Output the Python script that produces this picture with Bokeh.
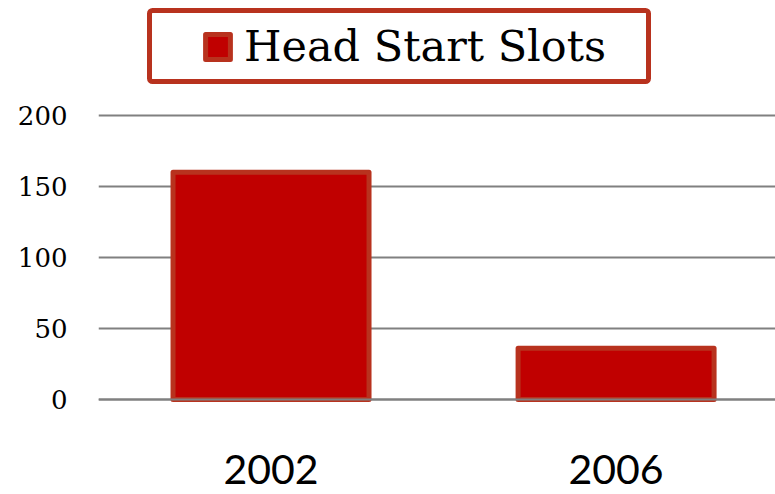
from bokeh.plotting import figure
from bokeh.models import (Range1d, FixedTicker, Legend, LegendItem, BoxAnnotation,
                          ColumnDataSource, Span)
from bokeh.embed import file_html
from bokeh.resources import INLINE

# ---- data ----
years = ["2002", "2006"]
slots = [160, 36]
series_name = "Head Start Slots"
y_ticks = [0, 50, 100, 150, 200]

x_pos = [i + 0.5 for i in range(len(years))]
src = ColumnDataSource(dict(x=x_pos, top=slots, year=years))

FILL = "#C00000"
EDGE = "#B8321E"
GRID = "#808080"

p = figure(width=775, height=494, output_backend="svg", toolbar_location=None,
           x_range=Range1d(0, 1.962), y_range=Range1d(-5, 280.9),
           min_border_left=98, min_border_right=0, min_border_top=0,
           min_border_bottom=88)
p.outline_line_color = None
p.background_fill_color = "white"
p.border_fill_color = "white"

r = p.vbar(x="x", top="top", bottom=0, width=0.568, source=src,
           fill_color=FILL, line_color=EDGE, line_width=5, line_join="round")

p.xgrid.visible = False
p.ygrid.ticker = FixedTicker(ticks=y_ticks)
p.ygrid.grid_line_color = GRID
p.ygrid.grid_line_width = 2

p.add_layout(Span(location=0, dimension="width", line_color=GRID, line_width=2))

p.yaxis.ticker = FixedTicker(ticks=y_ticks)
p.yaxis.axis_line_color = None
p.yaxis.major_tick_line_color = None
p.yaxis.minor_tick_line_color = None
p.yaxis.major_tick_out = 0
p.yaxis.major_tick_in = 0
p.yaxis.major_label_text_font = "DejaVu Serif"
p.yaxis.major_label_text_font_size = "26px"
p.yaxis.major_label_text_color = "black"
p.yaxis.major_label_standoff = 31

p.xaxis.ticker = FixedTicker(ticks=x_pos)
p.xaxis.major_label_overrides = {x: y for x, y in zip(x_pos, years)}
p.xaxis.axis_line_color = None
p.xaxis.major_tick_line_color = None
p.xaxis.minor_tick_line_color = None
p.xaxis.major_tick_out = 0
p.xaxis.major_tick_in = 0
p.xaxis.major_label_text_font = "Lato"
p.xaxis.major_label_text_font_size = "41px"
p.xaxis.major_label_text_color = "black"
p.xaxis.major_label_standoff = 48

box = BoxAnnotation(left=149, right=648, top=10, bottom=81,
                    left_units="canvas", right_units="canvas",
                    top_units="canvas", bottom_units="canvas",
                    fill_color="white", fill_alpha=1,
                    line_color=EDGE, line_alpha=1, line_width=5, border_radius=3)
p.add_layout(box)

legend = Legend(items=[LegendItem(label=series_name, renderers=[r])],
                location=(104, 335), glyph_width=31, glyph_height=31,
                label_text_font="DejaVu Serif", label_text_font_size="43px",
                label_text_color="black", label_standoff=11,
                border_line_color=None, background_fill_alpha=0,
                padding=0, margin=0)
p.add_layout(legend)

open("out.html", "w").write(file_html(p, INLINE))
